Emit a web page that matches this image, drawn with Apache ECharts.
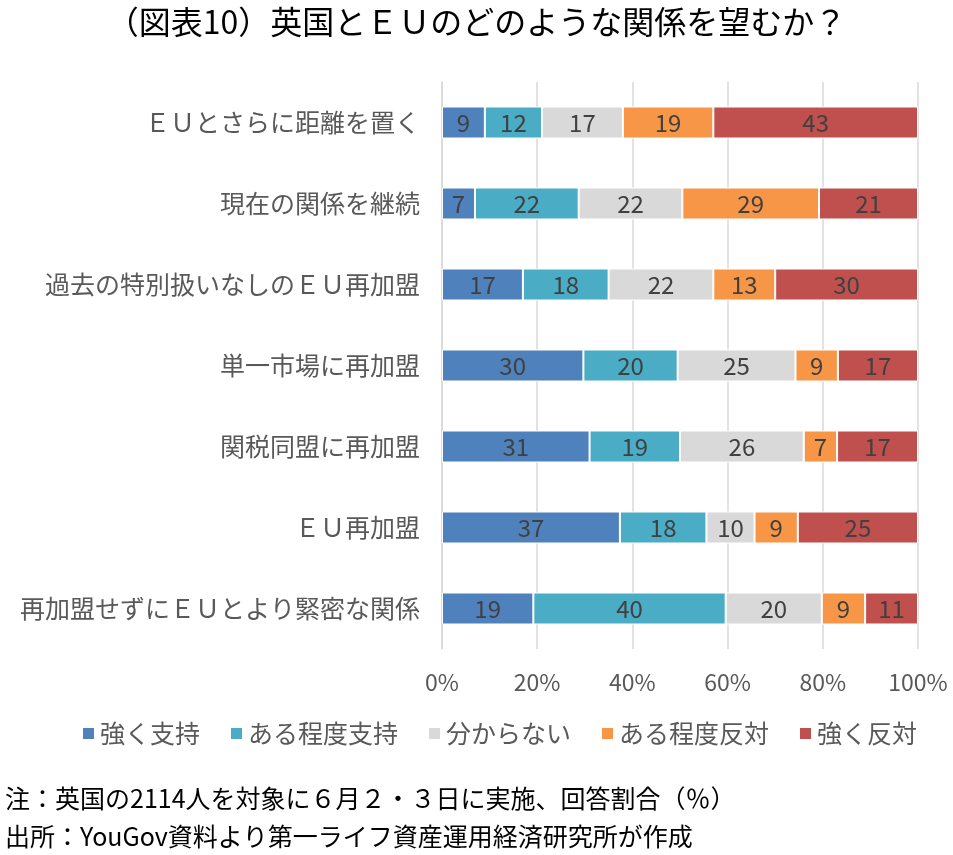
<!DOCTYPE html>
<html>
<head>
<meta charset="utf-8">
<script src="https://cdn.jsdelivr.net/npm/echarts@6/dist/echarts.min.js"></script>
<style>
  html, body { margin: 0; padding: 0; background: #fff; }
  #chart { width: 953px; height: 855px; }
</style>
</head>
<body>
<div id="chart"></div>
<script>
// カテゴリ（上から順）
const categories = [
  'ＥＵとさらに距離を置く',
  '現在の関係を継続',
  '過去の特別扱いなしのＥＵ再加盟',
  '単一市場に再加盟',
  '関税同盟に再加盟',
  'ＥＵ再加盟',
  '再加盟せずにＥＵとより緊密な関係'
];
const seriesNames = ['強く支持', 'ある程度支持', '分からない', 'ある程度反対', '強く反対'];
const strongSupport = [9, 7, 17, 30, 31, 37, 19];
const someSupport   = [12, 22, 18, 20, 19, 18, 40];
const dontKnow      = [17, 22, 22, 25, 26, 10, 20];
const someOppose    = [19, 29, 13, 9, 7, 9, 9];
const strongOppose  = [43, 21, 30, 17, 17, 25, 11];
const xTicks = ['0%', '20%', '40%', '60%', '80%', '100%'];

const colors = ['#4F81BD', '#4BACC6', '#D9D9D9', '#F79646', '#C0504D'];
const rawData = [strongSupport, someSupport, dontKnow, someOppose, strongOppose];
const font = '"Noto Sans CJK JP", "Noto Sans", sans-serif';

// 100%積み上げ用に行ごとの合計で割る
const rowSum = categories.map((_, i) => rawData.reduce((s, arr) => s + arr[i], 0));

const myEchart = echarts.init(document.getElementById('chart'));
const options = {
  animation: false,
  textStyle: { fontFamily: font },
  title: {
    text: '（図表10）英国とＥＵのどのような関係を望むか？',
    left: 'center',
    top: 1,
    textStyle: { fontFamily: font, fontSize: 32, fontWeight: 'normal', color: '#000' }
  },
  legend: {
    data: seriesNames,
    top: 716,
    left: 76,
    itemWidth: 13,
    itemHeight: 13,
    itemGap: 29,
    icon: 'rect',
    textStyle: { fontFamily: font, fontSize: 25, color: '#595959' }
  },
  grid: { left: 442, right: 35, top: 82, height: 567, containLabel: false },
  xAxis: {
    type: 'value',
    min: 0,
    max: 100,
    interval: 20,
    axisLabel: {
      fontSize: 23,
      color: '#595959',
      margin: 22,
      formatter: (v) => xTicks[Math.round(v / 20)]
    },
    splitLine: { show: true, lineStyle: { color: '#D9D9D9', width: 1.5 } },
    axisLine: { show: false },
    axisTick: { show: false }
  },
  yAxis: {
    type: 'category',
    data: categories,
    inverse: true,
    axisLabel: { fontSize: 25, color: '#595959', margin: 22 },
    axisLine: { show: true, lineStyle: { color: '#D9D9D9', width: 1.5 } },
    axisTick: { show: false }
  },
  graphic: [
    {
      type: 'text', left: 5, top: 786,
      style: { text: '注：英国の2114人を対象に６月２・３日に実施、回答割合（％）', font: '25px ' + font, fill: '#000' }
    },
    {
      type: 'text', left: 5, top: 824,
      style: { text: '出所：YouGov資料より第一ライフ資産運用経済研究所が作成', font: '25px ' + font, fill: '#000' }
    }
  ],
  series: seriesNames.map((name, si) => ({
    name: name,
    type: 'bar',
    stack: 'total',
    barWidth: 32,
    itemStyle: { color: colors[si], borderColor: '#fff', borderWidth: 1 },
    label: {
      show: true,
      position: 'inside',
      fontSize: 24,
      color: '#404040',
      formatter: (p) => rawData[si][p.dataIndex]
    },
    data: rawData[si].map((v, i) => v / rowSum[i] * 100)
  }))
};
myEchart.setOption(options);
</script>
</body>
</html>
